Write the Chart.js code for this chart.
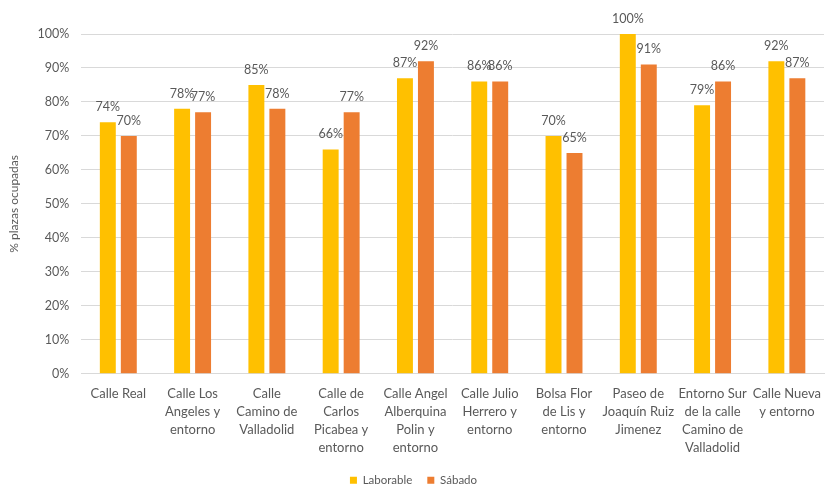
<!DOCTYPE html>
<html>
<head>
<meta charset="utf-8">
<script src="https://cdn.jsdelivr.net/npm/chart.js@4"></script>
<style>
  html, body { margin: 0; padding: 0; background: #ffffff; }
  #wrap { width: 825px; height: 485px; }
</style>
</head>
<body>
<div id="wrap"><canvas id="c" width="825" height="485"></canvas></div>
<script>
// Occupancy of parking places per street, weekday vs Saturday
const categories = [
  "Calle Real",
  ["Calle Los", "Angeles y", "entorno"],
  ["Calle", "Camino de", "Valladolid"],
  ["Calle de", "Carlos", "Picabea y", "entorno"],
  ["Calle Angel", "Alberquina", "Polin y", "entorno"],
  ["Calle Julio", "Herrero y", "entorno"],
  ["Bolsa Flor", "de Lis y", "entorno"],
  ["Paseo de", "Joaquín Ruiz", "Jimenez"],
  ["Entorno Sur", "de la calle", "Camino de", "Valladolid"],
  ["Calle Nueva", "y entorno"]
];
const laborable = [74, 78, 85, 66, 87, 86, 70, 100, 79, 92];
const sabado    = [70, 77, 78, 77, 92, 86, 65, 91, 86, 87];
const seriesNames = ["Laborable", "Sábado"];
const yTicks = [0, 10, 20, 30, 40, 50, 60, 70, 80, 90, 100];

const FONT = "Lato, 'Open Sans', sans-serif";
const GREY = "#595959";

// Value labels above each bar
const valueLabels = {
  id: "valueLabels",
  afterDatasetsDraw(chart) {
    const ctx = chart.ctx;
    ctx.save();
    ctx.font = "12.5px " + FONT;
    ctx.fillStyle = GREY;
    ctx.textAlign = "center";
    ctx.textBaseline = "bottom";
    chart.data.datasets.forEach((ds, i) => {
      const meta = chart.getDatasetMeta(i);
      meta.data.forEach((bar, j) => {
        ctx.fillText(ds.data[j] + "%", bar.x, bar.y - 9);
      });
    });
    ctx.restore();
  }
};

new Chart(document.getElementById("c"), {
  type: "bar",
  data: {
    labels: categories,
    datasets: [
      { label: seriesNames[0], data: laborable, backgroundColor: "#FFC000",
        categoryPercentage: 0.565, barPercentage: 0.76 },
      { label: seriesNames[1], data: sabado, backgroundColor: "#ED7D31",
        categoryPercentage: 0.565, barPercentage: 0.76 }
    ]
  },
  options: {
    responsive: false,
    animation: false,
    layout: { padding: { left: 3, right: 1, top: 34, bottom: -11 } },
    plugins: {
      legend: {
        position: "bottom",
        labels: {
          font: { family: FONT, size: 11.5 },
          color: GREY,
          boxWidth: 7,
          boxHeight: 7,
          padding: 15
        }
      },
      tooltip: { enabled: false }
    },
    scales: {
      x: {
        grid: { display: false },
        border: { color: "#d9d9d9" },
        ticks: {
          font: { family: FONT, size: 13, lineHeight: 1.38 },
          color: GREY,
          maxRotation: 0,
          autoSkip: false,
          padding: 3
        }
      },
      y: {
        min: 0,
        max: 100,
        afterBuildTicks(axis) { axis.ticks = yTicks.map(v => ({ value: v })); },
        grid: { color: "#d9d9d9", drawTicks: false },
        border: { display: false },
        ticks: {
          font: { family: FONT, size: 12.5 },
          color: GREY,
          padding: 12,
          callback: v => v + "%"
        },
        title: {
          display: true,
          text: "% plazas ocupadas",
          font: { family: FONT, size: 12 },
          color: GREY,
          padding: 4
        }
      }
    }
  },
  plugins: [valueLabels]
});
</script>
</body>
</html>
